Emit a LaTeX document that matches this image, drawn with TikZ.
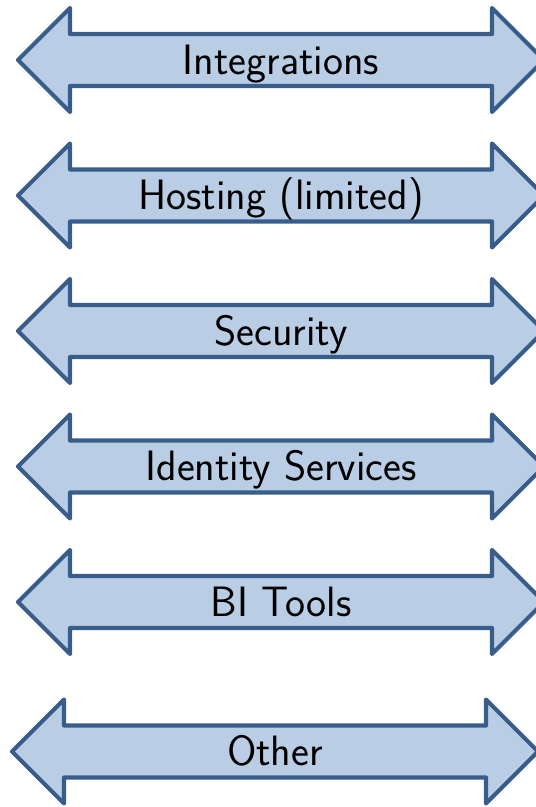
\documentclass[tikz,border=0pt]{standalone}
\usetikzlibrary{calc}

\definecolor{bandfill}{HTML}{B9CDE5}
\definecolor{bandline}{HTML}{385D8A}

\begin{document}
\begin{tikzpicture}[x=1pt,y=-1pt,
    band/.style={fill=bandfill, draw=bandline, line width=4.2pt, line join=round},
    bandtext/.style={anchor=base, inner sep=0pt, text=black,
        font=\sffamily\fontsize{42.5}{50}\selectfont}]

    % Page frame (right tips run off the edge)
    \useasboundingbox (0,0) rectangle (536,807);

    % Double-headed bands: name / centre y / left tip x / text
    \foreach \name/\cy/\lx/\txt in {
        integ/60/18/Integrations,
        host/195.5/18/{Hosting (limited)},
        sec/331/18/Security,
        ident/466.5/18/{Identity Services},
        bi/602/18/{BI Tools},
        other/751.5/12/Other} {
        \draw[band] (\lx,\cy) -- ++(52,-52) -- ++(0,26) -- ++(422,0) -- ++(0,-26)
            -- ++(52,52) -- ++(-52,52) -- ++(0,-26) -- ++(-422,0) -- ++(0,26) -- cycle;
        \node[bandtext] (\name) at (\lx+263,\cy+14) {\txt};
    }

\end{tikzpicture}
\end{document}
